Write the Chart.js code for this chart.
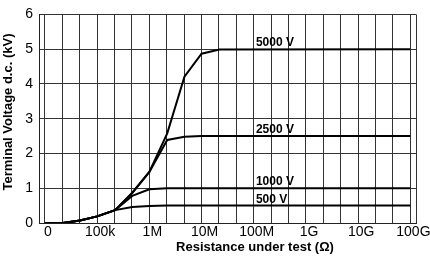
<!DOCTYPE html>
<html>
<head>
<meta charset="utf-8">
<script src="https://cdn.jsdelivr.net/npm/chart.js@4.4.0/dist/chart.umd.min.js"></script>
<style>
  html, body { margin: 0; padding: 0; background: #fff; }
  canvas { display: block; }
</style>
</head>
<body>
<canvas id="myChart" width="430" height="257"></canvas>
<script>
// data
const resistance = [1e4, 2.2e4, 4.7e4, 1e5, 2.2e5, 4.7e5, 1e6, 2.2e6, 4.7e6, 1e7, 2.2e7, 1e11];
const v500 = [0, 0, 0.07, 0.19, 0.37, 0.46, 0.49, 0.5, 0.5, 0.5, 0.5, 0.5];
const v1000 = [0, 0, 0.07, 0.19, 0.37, 0.78, 0.97, 1.0, 1.0, 1.0, 1.0, 1.0];
const v2500 = [0, 0, 0.07, 0.19, 0.37, 0.86, 1.47, 2.39, 2.48, 2.5, 2.5, 2.5];
const v5000 = [0, 0, 0.07, 0.19, 0.37, 0.87, 1.47, 2.58, 4.21, 4.87, 4.99, 5.0];

const seriesNames = ["500 V", "1000 V", "2500 V", "5000 V"];
const seriesLevels = [0.5, 1.0, 2.5, 5.0];
const labelAt = 1.1e8;

const decadeValues = [1e4, 1e5, 1e6, 1e7, 1e8, 1e9, 1e10, 1e11];
const decadeLabels = ["0", "100k", "1M", "10M", "100M", "1G", "10G", "100G"];

const xMin = 7.7e3;
const xMax = 1.28e11;

const font = "'Liberation Sans', Arial, sans-serif";

const toPoints = (vals) => resistance.map((r, i) => ({ x: r, y: vals[i] }));

const lineStyle = {
  borderColor: "#000",
  borderWidth: 2,
  pointRadius: 0,
  tension: 0,
  fill: false,
};

// grid every third of a decade, like the printed chart, plus the right frame
const gridTicks = [];
for (let k = 0; k <= 21; k++) {
  gridTicks.push({ value: Math.pow(10, 4 + k / 3) });
}
gridTicks.push({ value: xMax });

// titles and curve names
const textPlugin = {
  id: "texts",
  afterDraw(chart) {
    const { ctx, scales } = chart;
    ctx.save();
    ctx.fillStyle = "#000";

    ctx.font = "bold 12px " + font;
    ctx.textAlign = "left";
    ctx.textBaseline = "alphabetic";
    seriesNames.forEach((name, i) => {
      const x = scales.x.getPixelForValue(labelAt);
      const y = scales.y.getPixelForValue(seriesLevels[i]) - 3;
      ctx.fillText(name, x, y);
    });

    ctx.font = "bold 13px " + font;
    ctx.textAlign = "center";
    ctx.fillText("Resistance under test (Ω)", 255, 251);

    ctx.translate(8, 112);
    ctx.rotate(-Math.PI / 2);
    ctx.textBaseline = "middle";
    ctx.fillText("Terminal Voltage d.c. (kV)", 0, 0);
    ctx.restore();
  },
};

const ctx = document.getElementById("myChart");

new Chart(ctx, {
  type: "line",
  data: {
    datasets: [
      { label: seriesNames[0], data: toPoints(v500), ...lineStyle },
      { label: seriesNames[1], data: toPoints(v1000), ...lineStyle },
      { label: seriesNames[2], data: toPoints(v2500), ...lineStyle },
      { label: seriesNames[3], data: toPoints(v5000), ...lineStyle },
    ],
  },
  options: {
    responsive: false,
    animation: false,
    devicePixelRatio: 1,
    layout: {
      padding: { left: 0, top: 12, right: 14, bottom: 0 },
    },
    plugins: {
      legend: { display: false },
      tooltip: { enabled: false },
    },
    scales: {
      x: {
        type: "logarithmic",
        min: xMin,
        max: xMax,
        afterBuildTicks: (scale) => {
          scale.ticks = gridTicks.map((t) => ({ value: t.value }));
        },
        afterFit: (scale) => {
          scale.height = 34;
          scale.paddingLeft = 0;
          scale.paddingRight = 0;
        },
        grid: {
          color: "#333",
          lineWidth: 1,
          drawTicks: false,
        },
        border: { color: "#222", width: 1 },
        ticks: {
          autoSkip: false,
          maxRotation: 0,
          padding: 1,
          labelOffset: 3,
          color: "#000",
          font: { family: font, size: 14 },
          callback: (value) => {
            const i = decadeValues.findIndex((d) => Math.abs(d - value) / d < 1e-6);
            return i >= 0 ? decadeLabels[i] : "";
          },
        },
      },
      y: {
        min: 0,
        max: 6,
        afterFit: (scale) => {
          scale.width = 39;
        },
        grid: {
          color: "#333",
          lineWidth: 1,
          drawTicks: false,
        },
        border: { color: "#222", width: 1 },
        ticks: {
          stepSize: 1,
          padding: 6,
          color: "#000",
          font: { family: font, size: 14 },
        },
      },
    },
  },
  plugins: [textPlugin],
});
</script>
</body>
</html>
